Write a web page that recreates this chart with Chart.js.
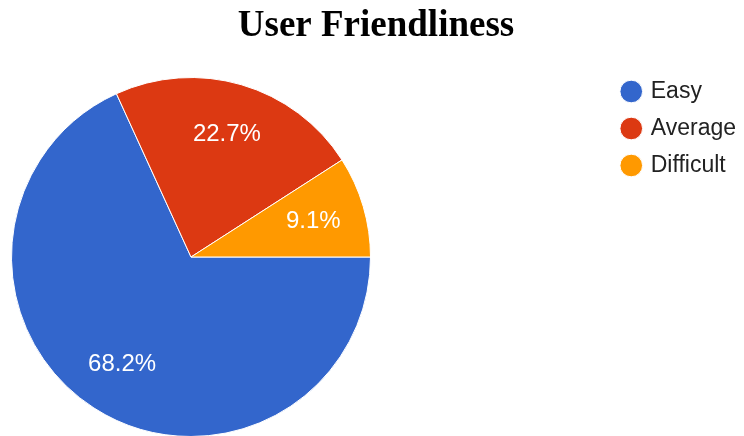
<!doctype html>
<html>
	<head>
		<meta charset="utf-8" />
		<title>User Friendliness</title>
		<script src="https://cdn.jsdelivr.net/npm/chart.js@4.4.1/dist/chart.umd.min.js"></script>
		<style>
			html,
			body {
				margin: 0;
				padding: 0;
				background: #fff;
			}

			canvas {
				display: block;
			}
		</style>
	</head>

	<body>
		<canvas id="chartJSContainer" width="744" height="436"></canvas>

		<script>
			// responses per answer (15 / 5 / 2 of 22 -> 68.2% / 22.7% / 9.1%)
			const categories = ["Easy", "Average", "Difficult"];
			const responses = [15, 5, 2];
			const sliceColors = ["#3366cc", "#dc3912", "#ff9900"];
			const chartTitle = "User Friendliness";

			// pie sits at the left and runs off the bottom edge, legend starts lower down
			const placePie = {
				id: "placePie",
				afterLayout(chart) {
					const a = chart.chartArea;
					a.left = 11;
					a.right = 371;
					a.top = 77;
					a.bottom = 437;
					a.width = 360;
					a.height = 360;

					const lg = chart.legend;
					const shift = 66 - lg.top;
					lg.top += shift;
					lg.bottom += shift;
					lg.left += 2;
					lg.right += 2;
				},
			};

			// percentage text inside each slice
			const sliceLabels = {
				id: "sliceLabels",
				afterDatasetsDraw(chart) {
					const ctx = chart.ctx;
					const meta = chart.getDatasetMeta(0);
					const data = chart.data.datasets[0].data;
					const total = data.reduce((s, v) => s + v, 0);
					ctx.save();
					ctx.fillStyle = "#ffffff";
					ctx.font = "24px 'Liberation Sans', Arial, sans-serif";
					ctx.textAlign = "center";
					ctx.textBaseline = "middle";
					meta.data.forEach((arc, i) => {
						const { x, y, startAngle, endAngle, outerRadius } = arc.getProps(
							["x", "y", "startAngle", "endAngle", "outerRadius"],
							true,
						);
						const mid = (startAngle + endAngle) / 2;
						const r = outerRadius * 0.71;
						const pct = ((data[i] / total) * 100).toFixed(1) + "%";
						ctx.fillText(pct, x + Math.cos(mid) * r, y + Math.sin(mid) * r);
					});
					ctx.restore();
				},
			};

			const ctx = document.getElementById("chartJSContainer").getContext("2d");
			window.testedChart = new Chart(ctx, {
				type: "pie",
				data: {
					labels: categories,
					datasets: [
						{
							data: responses,
							backgroundColor: sliceColors,
							borderColor: "#ffffff",
							borderWidth: 1,
							clip: false,
						},
					],
				},
				options: {
					responsive: false,
					devicePixelRatio: 1,
					animation: false,
					rotation: 90,
					layout: { padding: { left: 8 } },
					plugins: {
						tooltip: { enabled: false },
						title: {
							display: true,
							text: chartTitle,
							color: "#000000",
							font: {
								family: "'Liberation Serif', 'Times New Roman', serif",
								size: 37,
								weight: "bold",
							},
							padding: { top: 4, bottom: 16 },
						},
						legend: {
							position: "right",
							align: "start",
							labels: {
								usePointStyle: true,
								pointStyle: "circle",
								boxWidth: 16,
								boxHeight: 16,
								padding: 14,
								color: "#222222",
								font: {
									family: "'Liberation Sans', Arial, sans-serif",
									size: 23,
								},
							},
						},
					},
				},
				plugins: [placePie, sliceLabels],
			});
		</script>
	</body>
</html>
